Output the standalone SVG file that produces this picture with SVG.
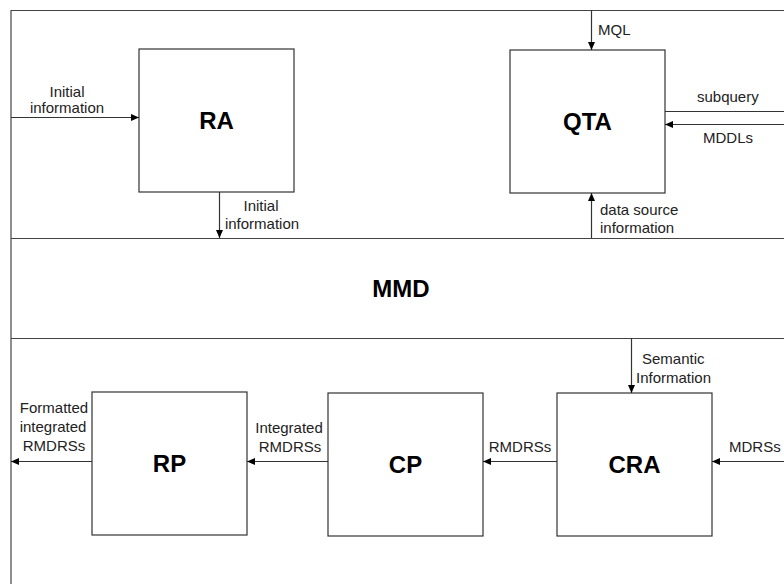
<svg xmlns="http://www.w3.org/2000/svg" width="784" height="584" viewBox="0 0 784 584">
<style>
.frame{stroke:#444;stroke-width:1.2;fill:none}
.box{fill:#fff;stroke:#333;stroke-width:1.2}
.con{stroke:#333;stroke-width:1.2;fill:none}
.lbl{font-family:"Liberation Sans",Arial,sans-serif;font-size:15px;fill:#222}
.big{font-family:"Liberation Sans",Arial,sans-serif;font-size:24px;font-weight:bold;fill:#000;text-anchor:middle}
.mid{text-anchor:middle}
.end{text-anchor:end}
</style>
<defs>
<marker id="ah" viewBox="0 0 8 8" refX="8" refY="4" markerWidth="8" markerHeight="8" markerUnits="userSpaceOnUse" orient="auto">
<path d="M0,0.5 L8,4 L0,7.5 Z" fill="#000"/>
</marker>
</defs>
<rect width="784" height="584" fill="#fff"/>
<g id="frame">
<path class="frame" d="M11,584 V10.5 H784 M11,238.5 H784 M11,338.5 H784"/>
</g>
<g id="RA"><rect class="box" x="139" y="49" width="155" height="143"/><text class="big" x="216.5" y="129">RA</text></g>
<g id="QTA"><rect class="box" x="510" y="50" width="155" height="143"/><text class="big" x="587.5" y="130">QTA</text></g>
<g id="MMD"><text class="big" x="401" y="297">MMD</text></g>
<g id="RP"><rect class="box" x="92" y="392" width="155" height="143"/><text class="big" x="169.5" y="472">RP</text></g>
<g id="CP"><rect class="box" x="328" y="393" width="155" height="143"/><text class="big" x="405.5" y="473">CP</text></g>
<g id="CRA"><rect class="box" x="557" y="393" width="155" height="143"/><text class="big" x="634.5" y="473">CRA</text></g>
<g id="connectors">
<line class="con" x1="11" y1="117.5" x2="139" y2="117.5" marker-end="url(#ah)"/>
<line class="con" x1="219.5" y1="192" x2="219.5" y2="238" marker-end="url(#ah)"/>
<line class="con" x1="591.5" y1="10" x2="591.5" y2="50" marker-end="url(#ah)"/>
<line class="con" x1="665" y1="111.5" x2="784" y2="111.5"/>
<line class="con" x1="784" y1="124.5" x2="665" y2="124.5" marker-end="url(#ah)"/>
<line class="con" x1="591.5" y1="238" x2="591.5" y2="193" marker-end="url(#ah)"/>
<line class="con" x1="631.5" y1="338" x2="631.5" y2="393" marker-end="url(#ah)"/>
<line class="con" x1="784" y1="461.5" x2="712" y2="461.5" marker-end="url(#ah)"/>
<line class="con" x1="557" y1="461.5" x2="483" y2="461.5" marker-end="url(#ah)"/>
<line class="con" x1="328" y1="461.5" x2="247" y2="461.5" marker-end="url(#ah)"/>
<line class="con" x1="92" y1="461.5" x2="11" y2="461.5" marker-end="url(#ah)"/>
</g>
<g id="labels">
<text class="lbl mid" x="67" y="97">Initial</text>
<text class="lbl mid" x="67" y="113">information</text>
<text class="lbl mid" x="261" y="211">Initial</text>
<text class="lbl mid" x="262" y="229">information</text>
<text class="lbl" x="598" y="35">MQL</text>
<text class="lbl" x="697" y="102">subquery</text>
<text class="lbl" x="703" y="143">MDDLs</text>
<text class="lbl" x="600" y="215">data source</text>
<text class="lbl" x="600" y="233">information</text>
<text class="lbl" x="642" y="364">Semantic</text>
<text class="lbl" x="636" y="383">Information</text>
<text class="lbl" x="729" y="452">MDRSs</text>
<text class="lbl mid" x="520" y="452">RMDRSs</text>
<text class="lbl mid" x="289" y="433">Integrated</text>
<text class="lbl mid" x="290" y="452">RMDRSs</text>
<text class="lbl mid" x="54" y="413">Formatted</text>
<text class="lbl mid" x="53" y="432">integrated</text>
<text class="lbl mid" x="54" y="451">RMDRSs</text>
</g>
</svg>
